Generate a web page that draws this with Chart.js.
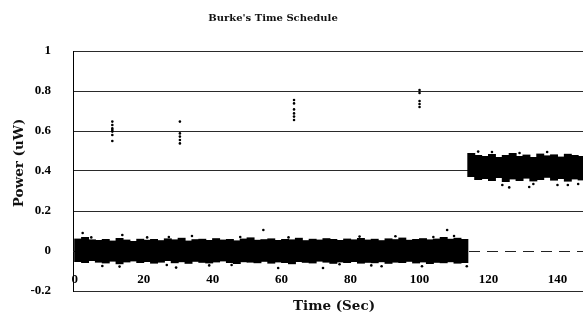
<!DOCTYPE html>
<html>
<head>
<meta charset="utf-8">
<title>Burke's Time Schedule</title>
<script src="https://cdn.jsdelivr.net/npm/chart.js@4/dist/chart.umd.min.js"></script>
<style>
  html,body{margin:0;padding:0;background:#fff;overflow:hidden}
  #wrap{width:587px;height:322px;position:relative}
</style>
</head>
<body>
<div id="wrap"><canvas id="chart"></canvas></div>
<script>
// text
const chartTitle = "Burke's Time Schedule";
const xTitle = 'Time (Sec)';
const yTitle = 'Power (uW)';

// tick labels
const xTicks = [0, 20, 40, 60, 80, 100, 120, 140];
const yTicks = [-0.2, 0, 0.2, 0.4, 0.6, 0.8, 1];

// noise band while off (0 - 114 s): time bin centre, lower and upper edge of the dense cloud
const band1Time = [1,3,5,7,9,11,13,15,17,19,21,23,25,27,29,31,33,35,37,39,41,43,45,47,49,51,53,55,57,
  59,61,63,65,67,69,71,73,75,77,79,81,83,85,87,89,91,93,95,97,99,101,103,105,107,109,111,113];
const band1Low = [-0.055,-0.06,-0.05,-0.058,-0.062,-0.053,-0.066,-0.057,-0.052,-0.06,-0.055,-0.063,-0.058,-0.05,-0.061,
  -0.056,-0.064,-0.054,-0.059,-0.062,-0.057,-0.052,-0.06,-0.065,-0.056,-0.058,-0.061,-0.054,-0.063,-0.057,
  -0.06,-0.066,-0.055,-0.059,-0.062,-0.053,-0.058,-0.064,-0.057,-0.06,-0.055,-0.063,-0.059,-0.061,-0.056,
  -0.064,-0.058,-0.06,-0.054,-0.062,-0.057,-0.065,-0.059,-0.061,-0.056,-0.063,-0.06];
const band1High = [0.062,0.07,0.058,0.055,0.06,0.052,0.065,0.057,0.05,0.061,0.056,0.06,0.054,0.063,0.058,
  0.066,0.052,0.059,0.061,0.055,0.064,0.057,0.06,0.053,0.062,0.068,0.056,0.059,0.063,0.055,
  0.06,0.058,0.066,0.054,0.061,0.057,0.064,0.06,0.055,0.062,0.058,0.065,0.057,0.061,0.054,
  0.063,0.059,0.067,0.056,0.06,0.064,0.058,0.062,0.07,0.061,0.066,0.06];

// noise band while on (114 s - end)
const band2Time = [115,117,119,121,123,125,127,129,131,133,135,137,139,141,143,145,147];
const band2Low  = [0.37,0.355,0.36,0.35,0.365,0.345,0.358,0.35,0.362,0.348,0.355,0.366,0.352,0.36,0.347,0.358,0.353];
const band2High = [0.49,0.48,0.475,0.485,0.47,0.48,0.49,0.475,0.482,0.47,0.487,0.478,0.483,0.472,0.486,0.48,0.475];

// stray samples outside the dense clouds
const strayTime  = [2.3,4.8,8,13.8,13,21,26.7,27.3,29.4,34,39,45.5,48,54.7,59,62,72,76.8,82.6,86,89,93,100.7,104,108,110,113.7,
  117,121,124,126,129,131.8,133,137,140,143,146];
const strayPower = [0.09,0.068,-0.075,0.08,-0.078,0.068,-0.07,0.07,-0.083,0.075,-0.072,-0.07,0.07,0.105,-0.085,0.068,-0.085,-0.066,0.072,-0.072,-0.076,0.074,-0.076,0.07,0.105,0.075,-0.076,
  0.497,0.495,0.33,0.318,0.49,0.32,0.335,0.495,0.33,0.33,0.335];

// the four short pulses
const spikeTime  = [10.9,10.9,10.9,10.9,10.9,10.9,10.9, 30.5,30.5,30.5,30.5,30.5, 63.6,63.6,63.6,63.6,63.6,63.6, 100,100,100,100,100];
const spikePower = [0.647,0.63,0.613,0.605,0.597,0.58,0.55, 0.647,0.588,0.572,0.555,0.538, 0.755,0.738,0.708,0.688,0.672,0.655, 0.805,0.79,0.75,0.735,0.72];

const fmt = v => String(+Number(v).toFixed(1));
const serif = '"Liberation Serif", "Times New Roman", serif';
const headSerif = '"DejaVu Serif", serif';

const band = (times, low, high) => ({
  type: 'bar',
  data: times.map((t, i) => ({ x: t, y: [low[i], high[i]] })),
  backgroundColor: '#000',
  borderWidth: 0,
  barPercentage: 1.15,
  categoryPercentage: 1,
  grouped: false
});

const dots = (xs, ys) => ({
  type: 'scatter',
  data: xs.map((x, i) => ({ x, y: ys[i] })),
  pointRadius: 1.3,
  pointBackgroundColor: '#000',
  pointBorderWidth: 0
});

// dashed zero line + titles
const decor = {
  id: 'decor',
  beforeDatasetsDraw(chart){
    const { ctx, chartArea, scales } = chart;
    const py = Math.round(scales.y.getPixelForValue(0)) + 0.5;
    ctx.save();
    ctx.strokeStyle = '#222';
    ctx.lineWidth = 1;
    ctx.setLineDash([11, 7]);
    ctx.beginPath();
    ctx.moveTo(chartArea.left, py);
    ctx.lineTo(chartArea.right, py);
    ctx.stroke();
    ctx.restore();
  },
  afterDraw(chart){
    const ctx = chart.ctx;
    ctx.save();
    ctx.fillStyle = '#111';
    ctx.textAlign = 'center';
    ctx.textBaseline = 'middle';
    ctx.font = 'bold 10px ' + headSerif;
    ctx.fillText(chartTitle, 273, 18);
    ctx.font = 'bold 13.5px ' + headSerif;
    ctx.fillText(xTitle, 334, 306);
    ctx.translate(19, 163);
    ctx.rotate(-Math.PI / 2);
    ctx.fillText(yTitle, 0, 0);
    ctx.restore();
  }
};

new Chart(document.getElementById('chart'), {
  type: 'scatter',
  data: {
    datasets: [
      band(band1Time, band1Low, band1High),
      band(band2Time, band2Low, band2High),
      dots(strayTime, strayPower),
      dots(spikeTime, spikePower)
    ]
  },
  options: {
    responsive: true,
    maintainAspectRatio: false,
    animation: false,
    layout: { padding: { top: 51, bottom: 31, left: 0, right: 0 } },
    plugins: { legend: { display: false }, tooltip: { enabled: false }, title: { display: false } },
    scales: {
      x: {
        type: 'linear',
        position: { y: 0 },
        offset: false,
        min: -0.5,
        max: 147.4,
        afterBuildTicks: s => { s.ticks = xTicks.map(v => ({ value: v })); },
        grid: { display: false, offset: false },
        border: { display: false },
        ticks: { color: '#000', font: { family: serif, size: 13, weight: 'bold' }, padding: 13, maxRotation: 0, autoSkip: false }
      },
      y: {
        type: 'linear',
        min: -0.2,
        max: 1,
        afterBuildTicks: s => { s.ticks = yTicks.map(v => ({ value: v })); },
        afterFit: s => { s.width = 73; },
        grid: {
          color: c => (c.tick && c.tick.value === 0) ? 'rgba(0,0,0,0)' : '#2a2a2a',
          lineWidth: 1,
          drawTicks: false
        },
        border: { display: true, color: '#000', width: 1 },
        ticks: { color: '#000', font: { family: serif, size: 13, weight: 'bold' }, padding: 22, callback: v => fmt(v) }
      }
    }
  },
  plugins: [decor]
});
</script>
</body>
</html>
